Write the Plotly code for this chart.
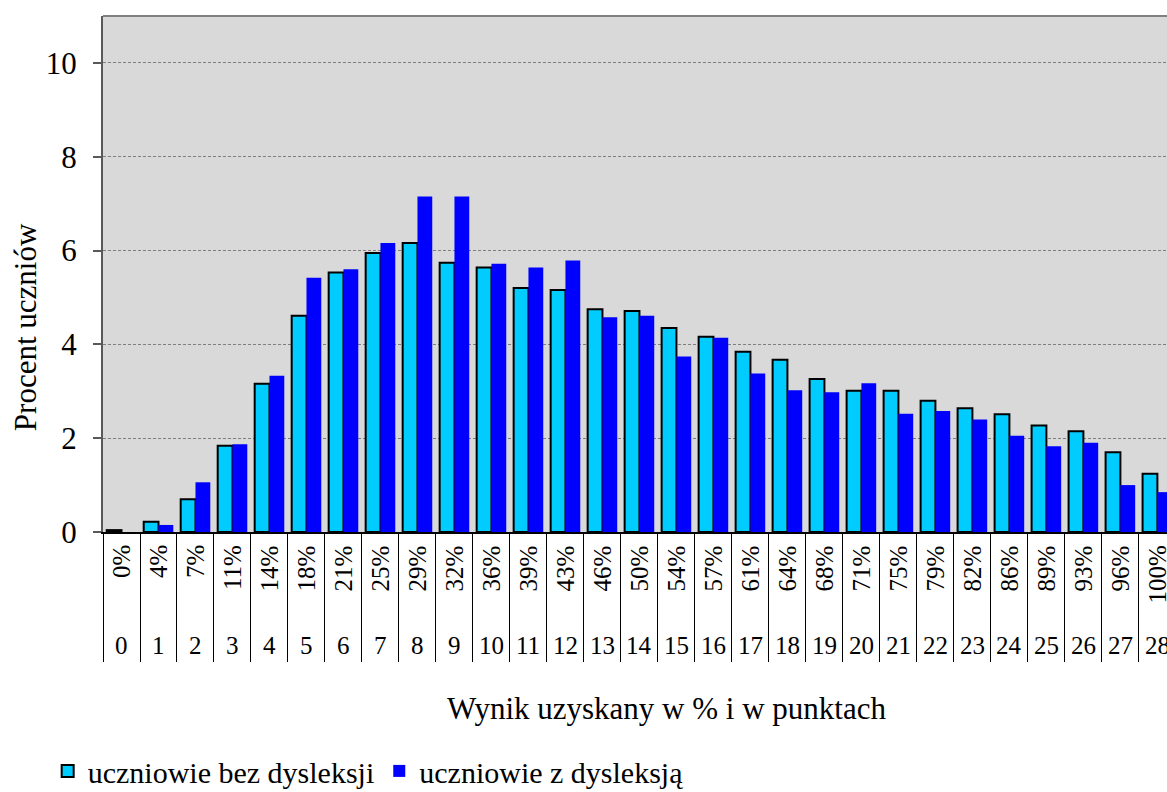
import plotly.graph_objects as go

points = [str(i) for i in range(29)]
pct_labels = ["0%", "4%", "7%", "11%", "14%", "18%", "21%", "25%", "29%", "32%",
              "36%", "39%", "43%", "46%", "50%", "54%", "57%", "61%", "64%", "68%",
              "71%", "75%", "79%", "82%", "86%", "89%", "93%", "96%", "100%"]
bez_dysleksji = [0.04, 0.22, 0.70, 1.84, 3.16, 4.61, 5.53, 5.95, 6.16, 5.74,
                 5.64, 5.20, 5.16, 4.75, 4.71, 4.35, 4.16, 3.84, 3.67, 3.26,
                 3.01, 3.01, 2.80, 2.64, 2.51, 2.27, 2.15, 1.70, 1.24]
z_dysleksja = [0.0, 0.15, 1.06, 1.87, 3.33, 5.42, 5.60, 6.16, 7.15, 7.15,
               5.72, 5.64, 5.79, 4.58, 4.61, 3.74, 4.14, 3.38, 3.02, 2.98,
               3.17, 2.52, 2.58, 2.40, 2.05, 1.83, 1.90, 1.00, 0.85]

FONT = "Liberation Serif"

fig = go.Figure()
fig.add_trace(go.Bar(x=points, y=bez_dysleksji, name="uczniowie bez dysleksji",
                     marker=dict(color="#00CCFF", line=dict(color="#000000", width=2))))
fig.add_trace(go.Bar(x=points, y=z_dysleksja, name="uczniowie z dysleksją",
                     marker=dict(color="#0000FF", line=dict(width=0))))

annotations = []
for p, lab in zip(points, pct_labels):
    annotations.append(dict(x=p, xref="x", y=0, yref="paper", text=lab, textangle=-90,
                            showarrow=False, yanchor="top", xanchor="center", yshift=-11,
                            font=dict(family=FONT, size=25, color="#000")))
    annotations.append(dict(x=p, xref="x", y=0, yref="paper", text=p,
                            showarrow=False, yanchor="middle", xanchor="center", yshift=-113,
                            font=dict(family=FONT, size=25, color="#000")))
annotations.append(dict(x=0.530, xref="paper", y=0, yref="paper", yshift=-176,
                        text="Wynik uzyskany w % i w punktach", showarrow=False,
                        xanchor="center", yanchor="middle",
                        font=dict(family=FONT, size=31, color="#000")))
annotations.append(dict(x=0, xref="paper", xshift=-78, y=0.397, yref="paper",
                        text="Procent uczniów", textangle=-90, showarrow=False,
                        xanchor="center", yanchor="middle",
                        font=dict(family=FONT, size=31, color="#000")))

fig.update_layout(
    width=1167, height=792,
    margin=dict(l=103, r=0, t=16, b=260, autoexpand=False),
    paper_bgcolor="white", plot_bgcolor="#D9D9D9",
    barmode="group", bargap=0.2, bargroupgap=0,
    font=dict(family=FONT, size=30, color="#000"),
    showlegend=True,
    legend=dict(orientation="h", x=-0.052, xanchor="left", y=-0.463, yanchor="middle",
                font=dict(family=FONT, size=30), bgcolor="rgba(0,0,0,0)",
                itemwidth=30, tracegroupgap=0),
    annotations=annotations,
    shapes=[dict(type="line", xref="paper", yref="paper", x0=0, x1=1, y0=1, y1=1,
                 line=dict(color="#808080", width=2))],
    xaxis=dict(type="category", range=[-0.5, 28.26], showgrid=False, automargin=False,
               showline=True, linecolor="#000", linewidth=2,
               ticks="outside", tickson="boundaries", ticklen=128,
               tickcolor="#000", tickwidth=1, showticklabels=False),
    yaxis=dict(range=[0, 11], dtick=2, tick0=0, showgrid=True, gridcolor="#7F7F7F",
               griddash="3px,2px", gridwidth=1, zeroline=False, automargin=False,
               showline=True, linecolor="#595959", linewidth=2,
               ticks="outside", ticklen=8, tickcolor="#595959", tickwidth=2,
               ticklabelstandoff=10, tickfont=dict(family=FONT, size=31)),
)

fig.write_html("out.html", config={"displayModeBar": False},
               post_script="document.body.style.margin='0';document.body.style.overflow='hidden';")
